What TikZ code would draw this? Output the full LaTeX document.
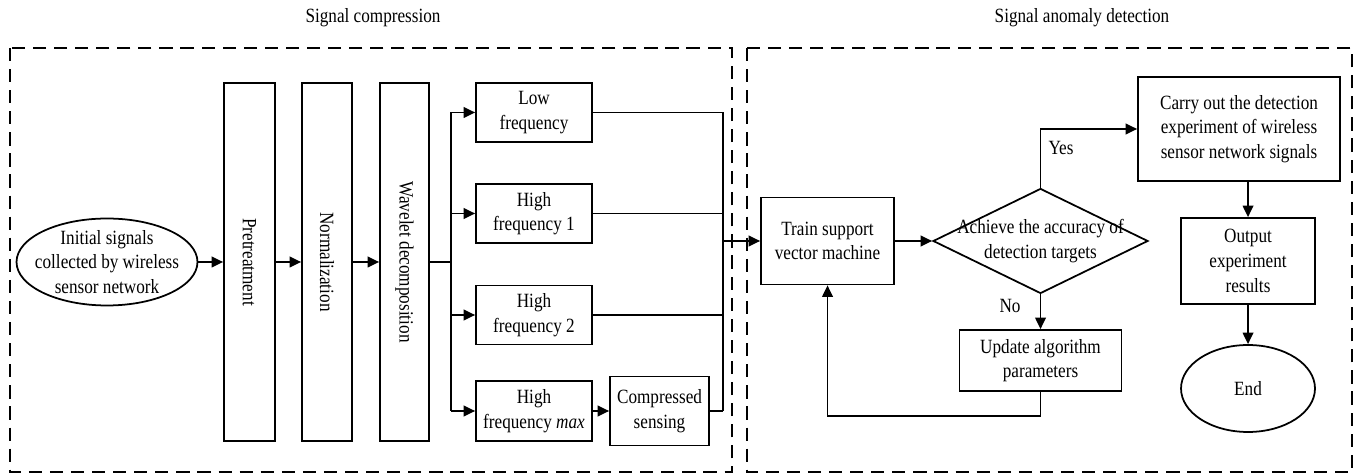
\documentclass[tikz,border=0pt]{standalone}
\usepackage{graphicx}
\usepackage{fontspec}
\setmainfont{Liberation Serif}[FakeStretch=0.85]
\usetikzlibrary{arrows.meta,shapes.geometric}

\begin{document}
\begin{tikzpicture}[x=0.02cm, y=-0.02cm, line width=1pt,
    every node/.style={font=\fontsize{11.5}{14}\selectfont, align=center, inner sep=1pt},
    box/.style={draw, rectangle},
    arr/.style={-{Triangle[length=6.5pt,width=6pt]}},
    frame/.style={draw, dash pattern=on 7.5pt off 4.5pt}]
    \useasboundingbox (0,0) rectangle (1361,475);
    % dashed frames and titles
    \draw[frame] (10,48) rectangle (732,472);
    \draw[frame] (747,48) rectangle (1352,472);
    \node (t1) at (373,18) {Signal compression};
    \node (t2) at (1082,18) {Signal anomaly detection};
    % signal compression
    \node[draw, ellipse, minimum width=3.62cm, minimum height=1.74cm,
        label={center:{Initial signals\\collected by wireless\\sensor network}}] (init) at (107,262) {};
    \node[box, minimum width=1.02cm, minimum height=7.16cm] (pre) at (249.5,262) {\rotatebox{-90}{Pretreatment}};
    \node[box, minimum width=1.0cm, minimum height=7.16cm] (norm) at (327,262) {\rotatebox{-90}{Normalization}};
    \node[box, minimum width=0.98cm, minimum height=7.16cm] (wave) at (404.5,262) {\rotatebox{-90}{Wavelet decomposition}};
    \node[box, minimum width=2.32cm, minimum height=1.18cm] (low) at (534,112.5) {Low\\frequency};
    \node[box, minimum width=2.32cm, minimum height=1.18cm] (hfa) at (534,213.5) {High\\frequency 1};
    \node[box, minimum width=2.32cm, minimum height=1.18cm] (hfb) at (534,315) {High\\frequency 2};
    \node[box, minimum width=2.32cm, minimum height=1.2cm] (hfm) at (534,411) {High\\frequency \textit{max}};
    \node[box, minimum width=1.98cm, minimum height=1.38cm] (cs) at (659.5,411) {Compressed\\sensing};
    \coordinate (split) at (451,262);
    \coordinate (merge) at (723,241);
        \draw[arr] (init) -- (pre);
        \draw[arr] (pre) -- (norm);
        \draw[arr] (norm) -- (wave);
        \draw (wave) -- (split);
        \draw (split |- low) -- (split |- hfm);
        \foreach \n in {low,hfa,hfb,hfm}
            \draw[arr] (split |- \n) -- (\n);
        \draw[arr] (hfm) -- (cs);
        \foreach \n in {low,hfa,hfb,cs}
            \draw (\n) -- (merge |- \n);
        \draw (merge |- low) -- (merge |- cs);
    % signal anomaly detection
    \node[box, minimum width=2.66cm, minimum height=1.74cm] (train) at (827.5,241) {Train support\\vector machine};
    \node[draw, diamond, minimum width=4.3cm, minimum height=2.1cm, inner sep=0pt,
        label={center:{Achieve the accuracy of\\detection targets}}] (dec) at (1040.5,241) {};
    \node[box, minimum width=3.24cm, minimum height=1.22cm] (upd) at (1040.5,360.5) {Update algorithm\\parameters};
    \node[box, minimum width=4.04cm, minimum height=2.08cm] (carry) at (1239,129) {Carry out the detection\\experiment of wireless\\sensor network signals};
    \node[box, minimum width=2.68cm, minimum height=1.72cm] (out) at (1248,261) {Output\\experiment\\results};
    \node[draw, ellipse, minimum width=2.68cm, minimum height=1.74cm] (end) at (1248,388.5) {End};
    \node (yes) at (1061,148) {Yes};
    \node (no) at (1010,306) {No};
        \draw[arr] (merge) -- (train);
        \draw[arr] (train) -- (dec);
        \draw[arr] (dec.north) |- (carry);
        \draw[arr] (dec) -- (upd);
        \draw[arr] (upd.south) -- ++(0,24) -| (train.south);
        \draw[arr] (carry.south -| out) -- (out.north);
        \draw[arr] (out) -- (end);
\end{tikzpicture}
\end{document}
